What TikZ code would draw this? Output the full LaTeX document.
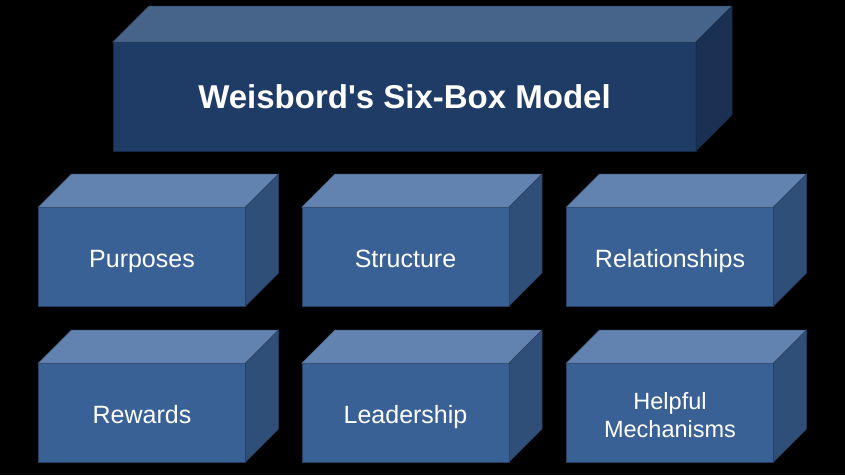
\documentclass[tikz,border=0pt]{standalone}
\usepackage{fontspec}
\setmainfont{Liberation Sans}
\definecolor{bigfront}{RGB}{31,60,102}
\definecolor{bigtop}{RGB}{70,99,138}
\definecolor{bigside}{RGB}{26,49,84}
\definecolor{smfront}{RGB}{58,97,149}
\definecolor{smtop}{RGB}{98,131,175}
\definecolor{smside}{RGB}{47,78,120}
\tikzset{
  frontface/.style={inner sep=0pt, outer sep=0pt, text=white, align=center},
  bigtxt/.style={font=\fontsize{33}{38}\selectfont\bfseries, text height=23pt, text depth=0pt},
  smtxt/.style={font=\fontsize{25}{28}\selectfont, text height=21pt, text depth=0pt},
  twoline/.style={font=\fontsize{23.5}{28}\selectfont, text height=49pt, text depth=0pt},
}
% #1 name, #2 center, #3 width, #4 height, #5 depth, #6 front, #7 top, #8 side
\newcommand\cuboidbox[8]{%
  \node[frontface, fill=#6, draw=#8!80!black, line width=0.5pt, minimum width=#3pt, minimum height=#4pt] (#1) at #2 {};
  \filldraw[fill=#7, draw=#7!80!black, line width=0.5pt] (#1.north west) -- ++(#5,-#5) -- ++(#3,0) -- (#1.north east) -- cycle;
  \filldraw[fill=#8, draw=#8!80!black, line width=0.5pt] (#1.north east) -- ++(#5,-#5) -- ++(0,#4) -- (#1.south east) -- cycle;
}
\begin{document}
\begin{tikzpicture}[x=1pt,y=-1pt]
\fill[black] (0,0) rectangle (845,475);
\useasboundingbox (0,0) rectangle (845,475);
\cuboidbox{top}{(404.5,96.5)}{583}{109}{36}{bigfront}{bigtop}{bigside}
\node[frontface, bigtxt] (toptxt) at (top) {Weisbord\textquotesingle s Six-Box Model};
\cuboidbox{b1}{(142,256.5)}{207}{99}{33}{smfront}{smtop}{smside}
\cuboidbox{b2}{(405.5,256.5)}{207}{99}{33}{smfront}{smtop}{smside}
\cuboidbox{b3}{(670,256.5)}{207}{99}{33}{smfront}{smtop}{smside}
\cuboidbox{b4}{(142,412.5)}{207}{99}{33}{smfront}{smtop}{smside}
\cuboidbox{b5}{(405.5,412.5)}{207}{99}{33}{smfront}{smtop}{smside}
\cuboidbox{b6}{(670,412.5)}{207}{99}{33}{smfront}{smtop}{smside}
\node[frontface, smtxt] (t1) at (b1) {Purposes};
\node[frontface, smtxt] (t2) at (b2) {Structure};
\node[frontface, smtxt] (t3) at (b3) {Relationships};
\node[frontface, smtxt] (t4) at (b4) {Rewards};
\node[frontface, smtxt] (t5) at (b5) {Leadership};
\node[frontface, twoline] (t6) at (b6) {Helpful\\Mechanisms};
\end{tikzpicture}
\end{document}
